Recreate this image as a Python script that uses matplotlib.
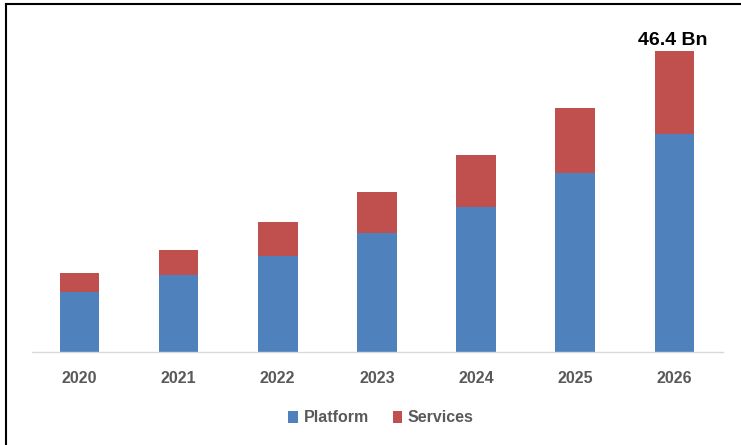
import matplotlib
matplotlib.use("Agg")
import matplotlib.pyplot as plt
from matplotlib.lines import Line2D
import numpy as np

years = ["2020", "2021", "2022", "2023", "2024", "2025", "2026"]
platform = [9.2, 11.9, 14.8, 18.4, 22.3, 27.6, 33.6]
services = [2.9, 3.85, 5.25, 6.2, 8.0, 10.0, 12.8]
label_text = "46.4 Bn"

blue = "#4f81bd"
red = "#c0504d"
gray = "#595959"

plt.rcParams['font.family'] = ['Liberation Sans', 'DejaVu Sans']

fig = plt.figure(figsize=(7.41, 4.45), dpi=100)
ax = fig.add_axes([32/741, 93/445, (723-32)/741, (352-20)/445])

x = np.arange(len(years))
ax.bar(x, platform, width=0.4, color=blue, label="Platform", zorder=2)
ax.bar(x, services, width=0.4, bottom=platform, color=red, label="Services", zorder=2)

total_last = platform[-1] + services[-1]
ax.annotate(label_text, xy=(x[-1], total_last), xytext=(-1, 1), textcoords="offset points",
            ha="center", va="bottom", fontsize=14, fontweight="bold", color="black")

ax.set_xlim(-0.478, 6.49)
ax.set_ylim(0, 46.4 / 301.3 * 332)
ax.set_xticks(x)
ax.set_xticklabels(years, fontsize=11.5, fontweight="bold", color=gray)
ax.tick_params(axis="x", length=0, pad=14)
ax.set_yticks([])
for s in ["top", "right", "left"]:
    ax.spines[s].set_visible(False)
ax.spines["bottom"].set_color("#d9d9d9")
ax.spines["bottom"].set_linewidth(1.0)

leg = fig.legend(loc="center", bbox_to_anchor=(381/741, 1 - 418/445), ncol=2, frameon=False,
                 fontsize=11.5, handlelength=0.6, handleheight=0.7, handletextpad=0.35,
                 columnspacing=1.5)
for t in leg.get_texts():
    t.set_color(gray)
    t.set_fontweight("bold")

# frame lines (left and top)
fig.add_artist(Line2D([5.8/741, 5.8/741], [0, 1 - 3.5/445], transform=fig.transFigure,
                      color="black", linewidth=1.5))
fig.add_artist(Line2D([5.8/741, 1], [1 - 3.5/445, 1 - 3.5/445], transform=fig.transFigure,
                      color="black", linewidth=1.5))

fig.savefig("out.png", dpi=100)
